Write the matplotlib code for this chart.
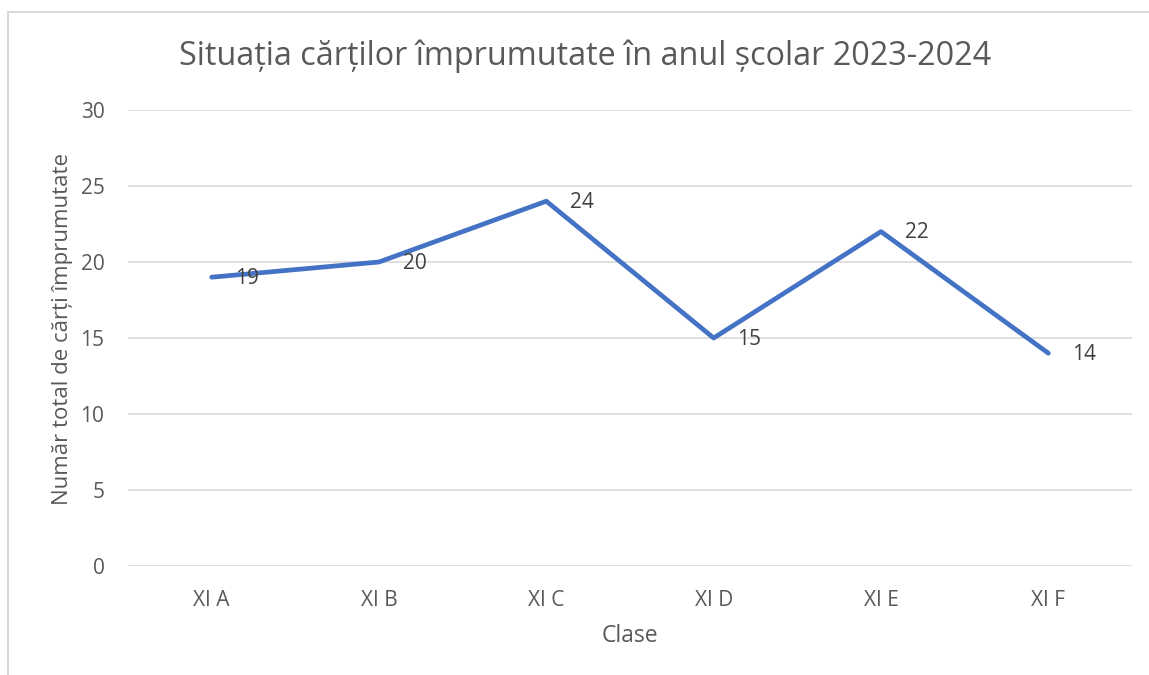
import matplotlib
matplotlib.use("Agg")
import matplotlib.pyplot as plt
from matplotlib.patches import Rectangle

categories = ["XI A", "XI B", "XI C", "XI D", "XI E", "XI F"]
values = [19, 20, 24, 15, 22, 14]
yticks = [0, 5, 10, 15, 20, 25, 30]

plt.rcParams['font.family'] = ['Open Sans', 'DejaVu Sans']
txt = '#595959'
W, H = 1149, 675
fig = plt.figure(figsize=(W/100, H/100), dpi=100)
fig.patches.append(Rectangle((8/W, -0.2), 1.2, 1.2 - 12/H, transform=fig.transFigure,
                             fill=False, edgecolor='#d9d9d9', linewidth=1.5))
ax = fig.add_axes([128/W, 1 - 566/H, (1132-128)/W, (566-110)/H])
x = list(range(len(categories)))
ax.plot(x, values, color='#4472C4', linewidth=3.4, solid_capstyle='round', solid_joinstyle='round', zorder=3)
for xi, v in zip(x, values):
    ax.annotate(str(v), (xi, v), xytext=(17, -1), textcoords='offset points',
                ha='left', va='center', fontsize=15, color='#404040', zorder=4)
ax.set_xlim(-0.5, len(categories) - 0.5)
ax.set_ylim(0, 30)
ax.set_yticks(yticks)
ax.set_xticks(x)
ax.set_xticklabels(categories)
ax.grid(axis='y', color='#d9d9d9', linewidth=1.2)
ax.set_axisbelow(True)
for s in ax.spines.values():
    s.set_visible(False)
ax.tick_params(length=0, colors=txt, labelsize=15)
ax.tick_params(axis='y', pad=17)
ax.tick_params(axis='x', pad=17.5)
ax.set_xlabel('Clase', fontsize=16.5, color=txt, labelpad=9)
ax.set_ylabel('Număr total de cărți împrumutate', fontsize=16, color=txt, labelpad=5)
ax.yaxis.label.set_y(0.52)
fig.text(585/W, 1 - 56/H, 'Situația cărților împrumutate în anul școlar 2023-2024',
         ha='center', va='center', fontsize=23.3, color=txt)
fig.savefig('out.png', dpi=100, facecolor='white')
